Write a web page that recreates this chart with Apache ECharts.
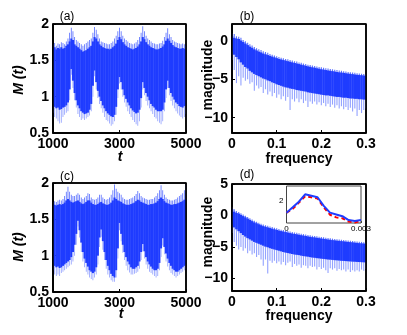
<!DOCTYPE html>
<html><head><meta charset="utf-8">
<script src="https://cdn.jsdelivr.net/npm/echarts@6/dist/echarts.min.js"></script>
<style>html,body{margin:0;padding:0;background:#fff}#c{width:407px;height:335px}</style>
</head><body><div id="c"></div>
<script>
// ---------- time axis (panels a, c) ----------
const timeBins = [1000,1050,1100,1150,1200,1250,1300,1350,1400,1450,1500,1550,1600,1650,1700,1750,1800,1850,1900,1950,
2000,2050,2100,2150,2200,2250,2300,2350,2400,2450,2500,2550,2600,2650,2700,2750,2800,2850,2900,2950,
3000,3050,3100,3150,3200,3250,3300,3350,3400,3450,3500,3550,3600,3650,3700,3750,3800,3850,3900,3950,
4000,4050,4100,4150,4200,4250,4300,4350,4400,4450,4500,4550,4600,4650,4700,4750,4800,4850,4900,4950,5000];
const timeTicks = [1000, 3000, 5000];
const mTicks = [0.5, 1, 1.5, 2];

// panel (a) envelope per bin
const aCoreLow = [0.90,0.86,0.84,0.85,0.82,0.83,0.85,0.86,0.88,0.92,1.10,1.38,1.22,1.05,0.95,0.88,0.84,0.80,0.78,0.76,
0.77,0.78,0.82,0.90,1.15,1.36,1.20,1.08,1.00,0.94,0.88,0.84,0.80,0.77,0.75,0.73,0.72,0.75,0.86,1.10,
1.27,1.20,1.10,1.02,0.97,0.92,0.88,0.84,0.81,0.79,0.77,0.78,0.82,0.98,1.20,1.12,1.05,1.00,0.95,0.90,
0.87,0.85,0.82,0.80,0.80,0.80,0.82,0.92,1.10,1.22,1.12,1.05,1.00,0.96,0.92,0.90,0.87,0.86,0.85,0.87,0.88];
const aOuterLow = [0.78,0.72,0.70,0.66,0.63,0.64,0.72,0.75,0.78,0.80,0.95,1.30,1.12,0.95,0.85,0.76,0.72,0.68,0.70,0.68,
0.70,0.72,0.74,0.80,1.00,1.28,1.10,0.98,0.90,0.84,0.78,0.72,0.68,0.66,0.63,0.60,0.62,0.66,0.75,0.98,
1.18,1.10,1.00,0.92,0.86,0.80,0.76,0.72,0.68,0.65,0.62,0.60,0.66,0.85,1.10,1.02,0.94,0.88,0.84,0.80,
0.76,0.72,0.70,0.66,0.64,0.62,0.66,0.80,0.98,1.12,1.02,0.94,0.88,0.84,0.80,0.77,0.74,0.72,0.70,0.72,0.76];
const aCoreHigh = [1.66,1.68,1.65,1.67,1.66,1.68,1.66,1.67,1.70,1.72,1.76,1.80,1.78,1.72,1.70,1.68,1.66,1.64,1.62,1.63,
1.64,1.66,1.68,1.70,1.76,1.82,1.80,1.76,1.72,1.70,1.68,1.67,1.66,1.66,1.65,1.66,1.68,1.70,1.73,1.78,
1.82,1.79,1.75,1.72,1.70,1.68,1.67,1.66,1.65,1.66,1.67,1.69,1.72,1.76,1.82,1.79,1.75,1.72,1.70,1.68,
1.67,1.66,1.65,1.65,1.66,1.67,1.69,1.72,1.77,1.80,1.77,1.74,1.71,1.69,1.68,1.67,1.66,1.66,1.67,1.66,1.65];
const aOuterHigh = [1.72,1.74,1.70,1.73,1.72,1.75,1.74,1.72,1.76,1.80,1.88,1.95,1.90,1.82,1.78,1.76,1.74,1.72,1.70,1.72,
1.74,1.76,1.78,1.80,1.88,1.96,1.92,1.86,1.80,1.76,1.75,1.74,1.73,1.72,1.72,1.74,1.76,1.80,1.84,1.90,
1.95,1.90,1.84,1.80,1.78,1.76,1.74,1.73,1.72,1.73,1.75,1.78,1.82,1.88,1.97,1.90,1.84,1.80,1.78,1.76,
1.74,1.73,1.72,1.72,1.73,1.74,1.77,1.82,1.88,1.94,1.86,1.82,1.78,1.76,1.75,1.74,1.73,1.72,1.73,1.72,1.70];

// panel (c) envelope per bin
const cCoreLow = [0.90,0.86,0.84,0.85,0.83,0.84,0.86,0.88,0.90,0.92,0.94,0.98,1.05,1.15,1.30,1.48,1.35,1.18,1.05,0.96,
0.90,0.85,0.80,0.78,0.76,0.78,0.84,1.00,1.25,1.36,1.20,1.05,0.94,0.86,0.80,0.75,0.72,0.70,0.80,1.10,
1.45,1.30,1.15,1.05,0.98,0.92,0.88,0.84,0.82,0.82,0.84,0.86,0.92,1.05,1.16,1.06,0.98,0.92,0.88,0.85,
0.82,0.80,0.80,0.82,0.90,1.10,1.24,1.12,1.03,0.96,0.90,0.86,0.82,0.80,0.78,0.78,0.80,0.82,0.84,0.86,0.88];
const cOuterLow = [0.80,0.74,0.72,0.74,0.72,0.76,0.78,0.80,0.82,0.84,0.86,0.88,0.92,1.00,1.15,1.40,1.25,1.05,0.92,0.84,
0.78,0.74,0.70,0.68,0.66,0.70,0.74,0.88,1.12,1.26,1.08,0.94,0.82,0.74,0.70,0.66,0.64,0.64,0.70,0.96,
1.35,1.20,1.04,0.94,0.86,0.80,0.77,0.74,0.74,0.75,0.76,0.78,0.82,0.94,1.06,0.96,0.88,0.82,0.78,0.76,
0.74,0.72,0.70,0.72,0.80,0.98,1.14,1.02,0.92,0.85,0.80,0.76,0.74,0.72,0.70,0.72,0.74,0.76,0.78,0.80,0.82];
const cCoreHigh = [1.70,1.70,1.69,1.70,1.71,1.70,1.71,1.73,1.76,1.78,1.76,1.74,1.73,1.74,1.75,1.76,1.74,1.72,1.71,1.72,
1.74,1.76,1.76,1.73,1.71,1.70,1.70,1.71,1.73,1.74,1.72,1.71,1.70,1.70,1.71,1.73,1.76,1.80,1.78,1.76,
1.75,1.74,1.72,1.71,1.70,1.70,1.70,1.71,1.72,1.73,1.75,1.77,1.76,1.74,1.73,1.72,1.71,1.70,1.70,1.71,
1.71,1.72,1.73,1.75,1.78,1.80,1.78,1.75,1.73,1.72,1.71,1.70,1.70,1.71,1.71,1.72,1.73,1.74,1.75,1.77,1.78];
const cOuterHigh = [1.74,1.75,1.74,1.76,1.77,1.76,1.78,1.82,1.88,1.95,1.88,1.84,1.82,1.82,1.84,1.86,1.84,1.80,1.78,1.80,
1.82,1.86,1.85,1.80,1.78,1.77,1.78,1.80,1.84,1.84,1.80,1.78,1.77,1.78,1.80,1.84,1.90,1.98,1.92,1.88,
1.86,1.84,1.80,1.78,1.77,1.77,1.78,1.79,1.80,1.82,1.85,1.89,1.86,1.82,1.80,1.79,1.78,1.77,1.77,1.78,
1.78,1.80,1.82,1.86,1.90,1.97,1.90,1.84,1.80,1.78,1.77,1.76,1.76,1.77,1.78,1.80,1.82,1.84,1.86,1.90,1.98];

// ---------- frequency axis (panels b, d) ----------
const freqBins = [0,0.005,0.01,0.015,0.02,0.025,0.03,0.035,0.04,0.045,0.05,0.055,0.06,0.065,0.07,0.075,0.08,0.085,0.09,0.095,
0.1,0.105,0.11,0.115,0.12,0.125,0.13,0.135,0.14,0.145,0.15,0.155,0.16,0.165,0.17,0.175,0.18,0.185,0.19,0.195,
0.2,0.205,0.21,0.215,0.22,0.225,0.23,0.235,0.24,0.245,0.25,0.255,0.26,0.265,0.27,0.275,0.28,0.285,0.29,0.295,0.3];
const freqTicks = [0, 0.1, 0.2, 0.3];
const bMagTicks = [-10, -5, 0];
const dMagTicks = [-10, -5, 0, 5];

const bCoreHigh = [0.6,0.4,0.3,0.25,0.05,-0.15,-0.35,-0.55,-0.75,-0.9,-1.1,-1.25,-1.4,-1.5,-1.65,-1.75,-1.85,-1.95,-2.05,-2.15,
-2.25,-2.35,-2.42,-2.5,-2.58,-2.65,-2.72,-2.8,-2.88,-2.95,-3.02,-3.1,-3.17,-3.25,-3.32,-3.38,-3.45,-3.5,-3.57,-3.63,
-3.7,-3.75,-3.8,-3.85,-3.9,-3.95,-4.0,-4.05,-4.1,-4.13,-4.17,-4.22,-4.26,-4.3,-4.34,-4.38,-4.42,-4.45,-4.48,-4.52,-4.55];
const bOuterHigh = [1.0,0.9,0.6,0.55,0.4,0.1,-0.05,-0.25,-0.45,-0.6,-0.8,-0.95,-1.1,-1.2,-1.35,-1.45,-1.55,-1.7,-1.8,-1.9,
-2.0,-2.1,-2.2,-2.25,-2.35,-2.4,-2.5,-2.55,-2.65,-2.7,-2.8,-2.85,-2.95,-3.0,-3.1,-3.15,-3.2,-3.28,-3.35,-3.4,
-3.45,-3.5,-3.55,-3.6,-3.65,-3.7,-3.75,-3.8,-3.85,-3.9,-3.95,-4.0,-4.05,-4.1,-4.12,-4.15,-4.2,-4.25,-4.28,-4.3,-4.35];
const bCoreLow = [-1.4,-1.8,-2.1,-2.4,-2.8,-3.1,-3.4,-3.6,-3.9,-4.1,-4.3,-4.45,-4.6,-4.75,-4.9,-5.0,-5.15,-5.25,-5.4,-5.5,
-5.65,-5.75,-5.85,-5.95,-6.05,-6.1,-6.2,-6.25,-6.3,-6.4,-6.45,-6.5,-6.55,-6.6,-6.7,-6.75,-6.8,-6.85,-6.9,-6.95,
-7.0,-7.05,-7.1,-7.1,-7.15,-7.2,-7.25,-7.3,-7.3,-7.35,-7.4,-7.4,-7.45,-7.5,-7.5,-7.55,-7.55,-7.6,-7.6,-7.65,-7.65];
const bOuterLow = [-2.5,-3.8,-5.5,-4.6,-5.8,-4.8,-5.2,-5.0,-5.6,-5.4,-6.5,-5.8,-6.2,-6.0,-6.8,-6.3,-7.0,-6.6,-7.2,-6.8,
-7.4,-7.0,-7.6,-7.2,-7.8,-7.3,-9.0,-7.6,-7.9,-7.5,-8.0,-7.6,-8.1,-7.8,-8.6,-7.9,-8.2,-7.9,-8.3,-8.0,
-8.4,-8.1,-8.5,-8.2,-8.6,-8.3,-8.7,-8.4,-8.8,-8.5,-8.9,-8.6,-9.0,-8.7,-9.2,-8.8,-9.8,-9.0,-9.4,-9.0,-8.8];

const dCoreHigh = [1.0,0.6,0.4,0.3,0.1,-0.1,-0.3,-0.5,-0.7,-0.9,-1.1,-1.25,-1.4,-1.55,-1.7,-1.8,-1.9,-2.0,-2.1,-2.2,
-2.3,-2.4,-2.48,-2.56,-2.64,-2.72,-2.8,-2.87,-2.94,-3.0,-3.07,-3.14,-3.2,-3.27,-3.33,-3.4,-3.45,-3.5,-3.55,-3.6,
-3.66,-3.72,-3.77,-3.82,-3.87,-3.92,-3.96,-4.0,-4.04,-4.08,-4.12,-4.16,-4.2,-4.24,-4.28,-4.32,-4.36,-4.4,-4.44,-4.47,-4.5];
const dOuterHigh = [1.3,1.0,0.7,0.55,0.35,0.15,-0.05,-0.25,-0.45,-0.65,-0.85,-1.0,-1.15,-1.3,-1.45,-1.55,-1.65,-1.75,-1.85,-1.95,
-2.05,-2.15,-2.25,-2.32,-2.4,-2.48,-2.55,-2.62,-2.7,-2.76,-2.83,-2.9,-2.96,-3.03,-3.1,-3.16,-3.22,-3.27,-3.32,-3.37,
-3.43,-3.48,-3.53,-3.58,-3.63,-3.68,-3.72,-3.76,-3.8,-3.84,-3.88,-3.92,-3.96,-4.0,-4.04,-4.08,-4.12,-4.16,-4.2,-4.24,-4.28];
const dCoreLow = [-1.5,-1.9,-2.2,-2.5,-2.8,-3.1,-3.35,-3.6,-3.8,-4.0,-4.2,-4.35,-4.5,-4.65,-4.8,-4.95,-5.05,-5.2,-5.3,-5.4,
-5.5,-5.6,-5.7,-5.8,-5.9,-5.97,-6.05,-6.12,-6.2,-6.25,-6.3,-6.38,-6.45,-6.5,-6.55,-6.62,-6.68,-6.72,-6.78,-6.82,
-6.86,-6.9,-6.95,-7.0,-7.02,-7.06,-7.1,-7.13,-7.16,-7.2,-7.22,-7.25,-7.28,-7.3,-7.33,-7.35,-7.38,-7.4,-7.42,-7.44,-7.46];
const dOuterLow = [-2.8,-4.2,-4.8,-5.4,-5.0,-5.6,-5.2,-6.0,-5.6,-6.2,-6.0,-6.6,-6.3,-7.0,-8.0,-7.0,-9.2,-7.2,-7.5,-7.2,
-7.6,-7.3,-7.8,-7.4,-7.9,-7.5,-7.3,-8.2,-7.7,-8.0,-7.8,-8.3,-7.9,-8.0,-8.4,-8.0,-8.2,-8.1,-8.6,-8.2,
-8.5,-8.3,-8.7,-9.15,-8.4,-8.6,-8.4,-8.8,-8.5,-8.7,-8.6,-8.9,-8.6,-9.0,-8.7,-8.9,-8.7,-8.9,-8.6,-8.8,-8.5];

// ---------- inset (panel d) ----------
const insetFreq = [0,0.00025,0.0005,0.00075,0.001,0.00125,0.0015,0.00175,0.002,0.00225,0.0025,0.00275,0.003];
const insetBlue = [1.60,1.78,1.97,2.22,2.17,2.12,1.83,1.60,1.54,1.48,1.35,1.32,1.35];
const insetRed  = [1.60,1.73,1.94,2.15,2.12,2.08,1.78,1.53,1.44,1.41,1.30,1.27,1.32];

// ---------- chart ----------
const FONT = "'Liberation Sans', Arial, Helvetica, sans-serif";
const CORE = '#1f3cff';
const UPPER = '#5a70ff';
const LOWER = '#94a3ff';
const minus = v => (v < 0 ? '\u2212' + (-v) : String(v));

function bandRender(step) {
  return function (params, api) {
    const t = api.value(0);
    const pOL = api.coord([t, api.value(1)]);
    const pCL = api.coord([t, api.value(2)]);
    const pCH = api.coord([t, api.value(3)]);
    const pOH = api.coord([t, api.value(4)]);
    const w = api.size([step, 0])[0];
    const x = pOL[0];
    return {
      type: 'group',
      children: [
        { type: 'rect', shape: { x: x - w * 0.25, y: pCL[1] - 1, width: w * 0.5, height: pOL[1] - pCL[1] + 1 }, style: { fill: LOWER } },
        { type: 'rect', shape: { x: x - w * 0.25, y: pOH[1], width: w * 0.5, height: pCH[1] - pOH[1] + 1 }, style: { fill: UPPER } },
        { type: 'rect', shape: { x: x - w / 2 - 0.2, y: pCH[1], width: w + 0.4, height: pCL[1] - pCH[1] }, style: { fill: CORE } }
      ]
    };
  };
}
function bandData(xs, oL, cL, cH, oH) {
  return xs.map((x, i) => [x, oL[i], cL[i], cH[i], oH[i]]);
}

const gridBoxes = [
  { left: 53, top: 24, width: 133, height: 109 },
  { left: 232, top: 24, width: 134, height: 109 },
  { left: 53, top: 183, width: 133, height: 109 },
  { left: 232, top: 184, width: 134, height: 107 }
];
const grids = gridBoxes.map(b => Object.assign({ show: true, backgroundColor: '#fff', borderColor: '#000', borderWidth: 1.5 }, b));
grids.push({ left: 286.5, top: 186, width: 74.5, height: 37, show: true, backgroundColor: '#fff', borderColor: '#444', borderWidth: 1, z: 5 });

const xAxes = [], yAxes = [];
const lab = { fontSize: 14, fontWeight: 'bold', color: '#000', fontFamily: FONT };
function addPanel(g, xmin, xmax, xticks, ymin, ymax, yticks, yfmt) {
  const common = { gridIndex: g, type: 'value', splitLine: { show: false },
    axisLine: { show: true, onZero: false, lineStyle: { color: '#000', width: 1.5 } } };
  xAxes.push(Object.assign({}, common, { min: xmin, max: xmax, position: 'bottom',
    axisTick: { inside: true, length: 3, customValues: xticks, lineStyle: { color: '#000' } },
    axisLabel: Object.assign({ margin: 4, customValues: xticks, formatter: v => String(v) }, lab) }));
  yAxes.push(Object.assign({}, common, { min: ymin, max: ymax, position: 'left',
    axisTick: { inside: true, length: 3, customValues: yticks, lineStyle: { color: '#000' } },
    axisLabel: Object.assign({ margin: 4, customValues: yticks, formatter: yfmt }, lab) }));
  return xAxes.length - 1;
}
const ia = addPanel(0, 1000, 5000, timeTicks, 0.5, 2, mTicks, v => String(v));
const ib = addPanel(1, 0, 0.3, freqTicks, -12, 2.2, bMagTicks, minus);
const ic = addPanel(2, 1000, 5000, timeTicks, 0.5, 2, mTicks, v => String(v));
const id = addPanel(3, 0, 0.3, freqTicks, -12, 5, dMagTicks, minus);

// inset axes
const insetLab = { fontSize: 8, color: '#000', fontFamily: FONT };
xAxes.push({ gridIndex: 4, type: 'value', min: 0, max: 0.003, position: 'bottom', splitLine: { show: false },
  axisLine: { show: false }, axisTick: { inside: true, length: 2, customValues: [0, 0.0015, 0.003], lineStyle: { color: '#444' } },
  axisLabel: Object.assign({ margin: 2, customValues: [0, 0.003], formatter: v => (v === 0 ? '0' : '0.003') }, insetLab) });
yAxes.push({ gridIndex: 4, type: 'value', min: 1.25, max: 2.5, position: 'left', splitLine: { show: false },
  axisLine: { show: false }, axisTick: { inside: true, length: 2, customValues: [2], lineStyle: { color: '#444' } },
  axisLabel: Object.assign({ margin: 3, customValues: [2] }, insetLab) });
const iin = xAxes.length - 1;

const series = [
  { type: 'custom', xAxisIndex: ia, yAxisIndex: ia, clip: true, renderItem: bandRender(50),
    encode: { x: 0, y: [1, 2, 3, 4] }, data: bandData(timeBins, aOuterLow, aCoreLow, aCoreHigh, aOuterHigh) },
  { type: 'custom', xAxisIndex: ib, yAxisIndex: ib, clip: true, renderItem: bandRender(0.005),
    encode: { x: 0, y: [1, 2, 3, 4] }, data: bandData(freqBins, bOuterLow, bCoreLow, bCoreHigh, bOuterHigh) },
  { type: 'custom', xAxisIndex: ic, yAxisIndex: ic, clip: true, renderItem: bandRender(50),
    encode: { x: 0, y: [1, 2, 3, 4] }, data: bandData(timeBins, cOuterLow, cCoreLow, cCoreHigh, cOuterHigh) },
  { type: 'custom', xAxisIndex: id, yAxisIndex: id, clip: true, renderItem: bandRender(0.005),
    encode: { x: 0, y: [1, 2, 3, 4] }, data: bandData(freqBins, dOuterLow, dCoreLow, dCoreHigh, dOuterHigh) },
  { type: 'line', xAxisIndex: iin, yAxisIndex: iin, z: 10, symbol: 'none', animation: false,
    lineStyle: { color: '#ff0000', width: 2, type: [4, 3] }, data: insetFreq.map((f, i) => [f, insetRed[i]]) },
  { type: 'line', xAxisIndex: iin, yAxisIndex: iin, z: 11, symbol: 'none', animation: false,
    lineStyle: { color: '#1f3cff', width: 2 }, data: insetFreq.map((f, i) => [f, insetBlue[i]]) }
];

function txt(text, x, y, opts) {
  return Object.assign({ type: 'text', x: x, y: y, z: 100,
    style: Object.assign({ text: text, fill: '#000', align: 'center', verticalAlign: 'middle',
      font: 'bold 14px ' + FONT }, (opts && opts.style) || {}) }, (opts && opts.el) || {});
}
const R = Math.PI / 2;
const graphic = [
  txt('(a)', 67, 16.5, { style: { font: '12px ' + FONT } }),
  txt('(b)', 247, 16.5, { style: { font: '12px ' + FONT } }),
  txt('(c)', 67, 176.5, { style: { font: '12px ' + FONT } }),
  txt('(d)', 247, 175, { style: { font: '12px ' + FONT } }),
  txt('M (t)', 19, 80, { style: { font: 'italic bold 14px ' + FONT }, el: { rotation: R } }),
  txt('M (t)', 19, 247, { style: { font: 'italic bold 14px ' + FONT }, el: { rotation: R } }),
  txt('t', 120, 157.5, { style: { font: 'italic bold 14px ' + FONT } }),
  txt('t', 121, 314, { style: { font: 'italic bold 14px ' + FONT } }),
  txt('magnitude', 208, 75, { el: { rotation: R } }),
  txt('magnitude', 208, 232, { el: { rotation: R } }),
  txt('frequency', 299, 159),
  txt('frequency', 299, 316)
];
// panel frames (layout only), drawn as four edges each
gridBoxes.forEach(b => {
  const x0 = b.left, y0 = b.top, x1 = b.left + b.width, y1 = b.top + b.height;
  [[x0, y0, x1, y0], [x1, y0, x1, y1], [x0, y1, x1, y1], [x0, y0, x0, y1]].forEach(s => {
    graphic.push({ type: 'line', z: 90, silent: true,
      shape: { x1: s[0], y1: s[1], x2: s[2], y2: s[3] },
      style: { stroke: '#000', lineWidth: 1.5 } });
  });
});

const chart = echarts.init(document.getElementById('c'), null, { renderer: 'canvas' });
chart.setOption({
  animation: false,
  backgroundColor: '#fff',
  grid: grids,
  xAxis: xAxes,
  yAxis: yAxes,
  series: series,
  graphic: graphic
});
</script>
</body></html>
